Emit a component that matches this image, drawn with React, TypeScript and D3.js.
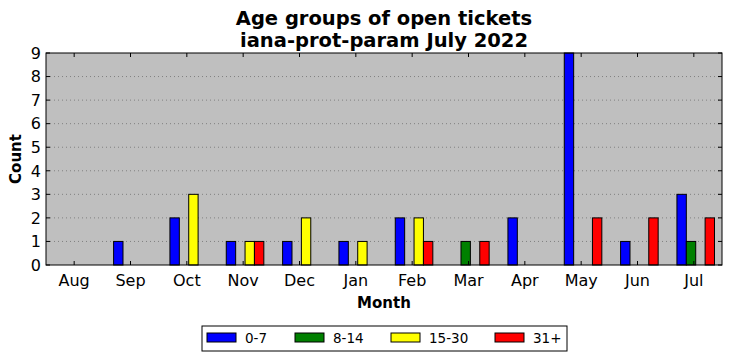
import * as d3 from "d3";

const months = ["Aug", "Sep", "Oct", "Nov", "Dec", "Jan", "Feb", "Mar", "Apr", "May", "Jun", "Jul"];
const groups = ["0-7", "8-14", "15-30", "31+"];
const colors = ["#0000ff", "#008000", "#ffff00", "#ff0000"];

const age0to7 = [0, 1, 2, 1, 1, 1, 2, 0, 2, 9, 1, 3];
const age8to14 = [0, 0, 0, 0, 0, 0, 0, 1, 0, 0, 0, 1];
const age15to30 = [0, 0, 3, 1, 2, 1, 2, 0, 0, 0, 0, 0];
const age31plus = [0, 0, 0, 1, 0, 0, 1, 1, 0, 2, 2, 2];
const series = [age0to7, age8to14, age15to30, age31plus];

const yTicks = [0, 1, 2, 3, 4, 5, 6, 7, 8, 9];

const WIDTH = 732;
const HEIGHT = 361;
const MARGIN = { top: 53, right: 10, bottom: 96, left: 46 };
const BAR_W = 1 / 6;
const FONT = "DejaVu Sans, sans-serif";

export default function App() {
  const boundsWidth = WIDTH - MARGIN.left - MARGIN.right;
  const boundsHeight = HEIGHT - MARGIN.top - MARGIN.bottom;

  const xScale = d3.scaleLinear().domain([-0.2, months.length - 0.2]).range([0, boundsWidth]);
  const yScale = d3.scaleLinear().domain([0, 9]).range([boundsHeight, 0]);

  const bars = series.map((values, k) =>
    values.map((v, i) => {
      const x0 = xScale(i + k * BAR_W);
      const x1 = xScale(i + (k + 1) * BAR_W);
      return (
        <rect
          key={`${k}-${i}`}
          x={x0}
          y={yScale(v)}
          width={x1 - x0}
          height={yScale(0) - yScale(v)}
          fill={colors[k]}
          stroke="#000"
          strokeWidth={1}
        />
      );
    })
  );

  const grid = yTicks.slice(1, -1).map((t) => (
    <line
      key={t}
      x1={0}
      x2={boundsWidth}
      y1={yScale(t)}
      y2={yScale(t)}
      stroke="#808080"
      strokeDasharray="1,3"
      strokeWidth={1}
    />
  ));

  const yAxis = yTicks.map((t) => (
    <g key={t}>
      <line x1={0} x2={4} y1={yScale(t)} y2={yScale(t)} stroke="#000" />
      <line x1={boundsWidth - 4} x2={boundsWidth} y1={yScale(t)} y2={yScale(t)} stroke="#000" />
      <text x={-5} y={yScale(t)} dy="0.36em" textAnchor="end" fontSize={16} fontFamily={FONT}>
        {t}
      </text>
    </g>
  ));

  const xAxis = months.map((m, i) => {
    const x = xScale(i + 0.3);
    return (
      <g key={m}>
        <line x1={x} x2={x} y1={boundsHeight} y2={boundsHeight - 4} stroke="#000" />
        <line x1={x} x2={x} y1={0} y2={4} stroke="#000" />
        <text x={x} y={boundsHeight + 21} textAnchor="middle" fontSize={16} fontFamily={FONT}>
          {m}
        </text>
      </g>
    );
  });

  const legendX = [207, 295, 391, 495];
  const legend = groups.map((g, k) => (
    <g key={g}>
      <rect x={legendX[k]} y={333} width={29} height={9} fill={colors[k]} stroke="#000" />
      <text x={legendX[k] + 38} y={342.5} fontSize={13.5} fontFamily={FONT}>
        {g}
      </text>
    </g>
  ));

  return (
    <svg
      width={WIDTH}
      height={HEIGHT}
      style={{ position: "absolute", left: 0, top: 0, background: "#fff" }}
    >
      <text x={384} y={25} textAnchor="middle" fontSize={19.5} fontWeight="bold" fontFamily={FONT}>
        Age groups of open tickets
      </text>
      <text x={384} y={47} textAnchor="middle" fontSize={19.5} fontWeight="bold" fontFamily={FONT}>
        iana-prot-param July 2022
      </text>
      <g transform={`translate(${MARGIN.left},${MARGIN.top})`}>
        <rect x={0} y={0} width={boundsWidth} height={boundsHeight} fill="#bfbfbf" />
        {grid}
        {bars}
        {yAxis}
        {xAxis}
        <rect x={0} y={0} width={boundsWidth} height={boundsHeight} fill="none" stroke="#000" />
      </g>
      <text x={384} y={308} textAnchor="middle" fontSize={15} fontWeight="bold" fontFamily={FONT}>
        Month
      </text>
      <text
        transform="translate(21,159) rotate(-90)"
        textAnchor="middle"
        fontSize={15}
        fontWeight="bold"
        fontFamily={FONT}
      >
        Count
      </text>
      <rect x={202} y={326} width={365} height={25} fill="#fff" stroke="#000" />
      {legend}
    </svg>
  );
}
